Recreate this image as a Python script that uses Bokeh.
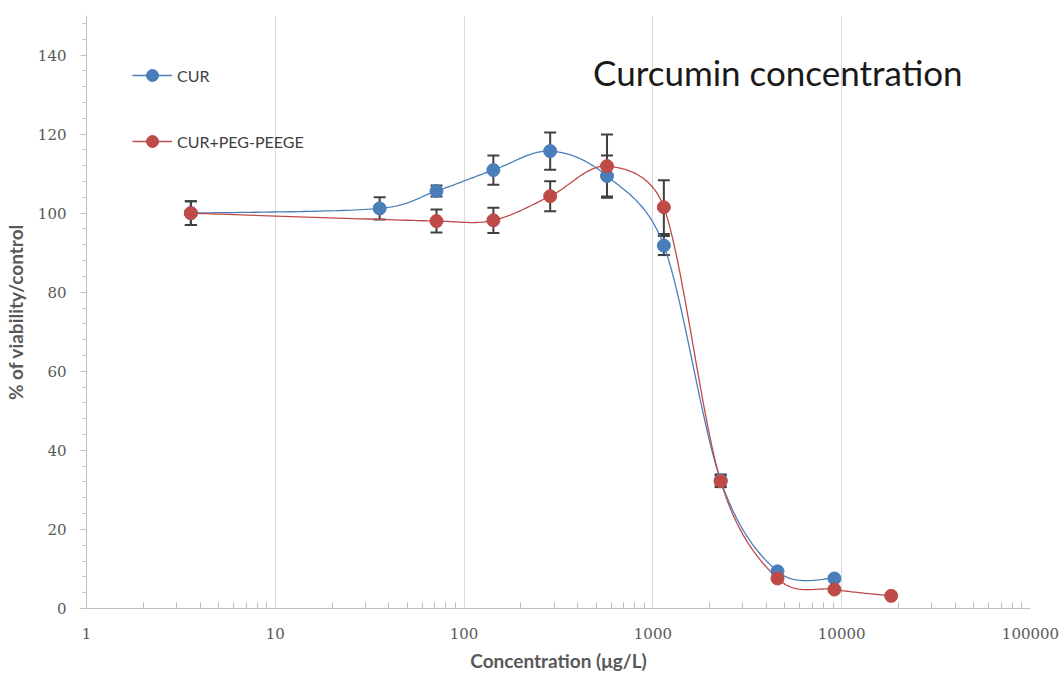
import numpy as np
from bokeh.plotting import figure
from bokeh.models import (ColumnDataSource, Whisker, TeeHead, Legend, LegendItem,
                          Label, FixedTicker, NumeralTickFormatter)
from bokeh.embed import file_html
from bokeh.resources import INLINE

# Viability (% of control) versus curcumin concentration (µg/L)
cur_conc = [3.57, 35.7, 71.4, 142.9, 285.7, 571.4, 1142.9, 2285.7, 4571.4, 9142.9]
cur_viab = [100.0, 101.2, 105.6, 110.9, 115.7, 109.4, 91.8, 32.4, 9.4, 7.6]
cur_err = [3.0, 2.8, 1.4, 3.7, 4.7, 5.2, 2.4, 1.5, 0.0, 0.0]

peg_conc = [3.57, 71.4, 142.9, 285.7, 571.4, 1142.9, 2285.7, 4571.4, 9142.9, 18285.7]
peg_viab = [100.0, 98.0, 98.2, 104.3, 111.9, 101.5, 32.2, 7.6, 4.8, 3.2]
peg_err = [3.0, 2.9, 3.2, 3.8, 8.0, 6.8, 1.5, 0.0, 0.0, 0.0]

x_ticks = [1, 10, 100, 1000, 10000, 100000]
y_ticks = [0, 20, 40, 60, 80, 100, 120, 140]

BLUE = "#4a7ebb"
RED = "#be4b48"
TICK_FONT = "DejaVu Serif"
TEXT_FONT = "Lato"

# approximate screen scale of the frame, used so the curve smoothing
# behaves the same way in both directions
PX_PER_DECADE = 188.8
PX_PER_UNIT = 3.953


def smooth(xs, ys, n=40):
    """Bezier smoothing through the points with control arms limited to
    half of the segment length (spreadsheet-style smoothed line)."""
    u = np.log10(np.asarray(xs, dtype=float)) * PX_PER_DECADE
    y = np.asarray(ys, dtype=float) * PX_PER_UNIT
    pts = np.column_stack([u, y])
    pts = np.vstack([pts[:1], pts, pts[-1:]])
    t = np.linspace(0.0, 1.0, n)
    out = []
    for i in range(len(u) - 1):
        p0, p1, p2, p3 = pts[i], pts[i + 1], pts[i + 2], pts[i + 3]
        d02 = np.linalg.norm(p2 - p0)
        d12 = np.linalg.norm(p2 - p1)
        d13 = np.linalg.norm(p3 - p1)
        f1 = 1.0 / 6.0
        f2 = 1.0 / 6.0
        if d02 * f1 > d12 / 2 and d02 > 0:
            f1 = d12 / 2 / d02
        if d13 * f2 > d12 / 2 and d13 > 0:
            f2 = d12 / 2 / d13
        c1 = p1 + (p2 - p0) * f1
        c2 = p2 - (p3 - p1) * f2
        tt = t if i == 0 else t[1:]
        b = ((1 - tt) ** 3)[:, None] * p1 + (3 * (1 - tt) ** 2 * tt)[:, None] * c1 \
            + (3 * (1 - tt) * tt ** 2)[:, None] * c2 + (tt ** 3)[:, None] * p2
        out.append(b)
    out = np.vstack(out)
    return list(10 ** (out[:, 0] / PX_PER_DECADE)), list(out[:, 1] / PX_PER_UNIT)


p = figure(width=1062, height=675, x_axis_type="log",
           x_range=(1, 100000), y_range=(0, 150),
           output_backend="svg", toolbar_location=None,
           min_border_left=86, min_border_right=32,
           min_border_top=15, min_border_bottom=67)
p.outline_line_color = None
p.background_fill_color = "white"
p.border_fill_color = "white"

# grid: vertical lines at each decade only
p.ygrid.visible = False
p.xgrid.grid_line_color = "#d9d9d9"
p.xgrid.grid_line_width = 1

minor_x = [m * 10 ** d for d in range(5) for m in range(2, 10)]
p.xaxis.ticker = FixedTicker(ticks=x_ticks, minor_ticks=minor_x)
p.xaxis.formatter = NumeralTickFormatter(format="0")
p.yaxis.ticker = FixedTicker(ticks=y_ticks, minor_ticks=list(range(0, 151, 4)))

for ax in (p.xaxis[0], p.yaxis[0]):
    ax.axis_line_color = "#bfbfbf"
    ax.major_tick_line_color = "#bfbfbf"
    ax.minor_tick_line_color = "#bfbfbf"
    ax.major_label_text_font = TICK_FONT
    ax.major_label_text_font_size = "15px"
    ax.major_label_text_color = "#595959"
    ax.axis_label_text_font = TEXT_FONT
    ax.axis_label_text_font_size = "19px"
    ax.axis_label_text_font_style = "bold"
    ax.axis_label_text_color = "#595959"

p.xaxis.major_tick_out = 0
p.xaxis.major_tick_in = 0
p.xaxis.minor_tick_out = 0
p.xaxis.minor_tick_in = 6
p.xaxis.major_label_standoff = 19
p.xaxis.axis_label = "Concentration (μg/L)"
p.xaxis.axis_label_standoff = 7

p.yaxis.major_tick_out = 6
p.yaxis.major_tick_in = 0
p.yaxis.minor_tick_out = 4
p.yaxis.minor_tick_in = 0
p.yaxis.major_label_standoff = 14
p.yaxis.axis_label = "% of viability/control"
p.yaxis.axis_label_standoff = 8

# smoothed curves
cx, cy = smooth(cur_conc, cur_viab)
px, py = smooth(peg_conc, peg_viab)
cur_line = p.line(cx, cy, line_color=BLUE, line_width=1.3)
peg_line = p.line(px, py, line_color=RED, line_width=1.3)


def error_source(xs, ys, es):
    keep = [i for i, e in enumerate(es) if e > 0]
    return ColumnDataSource(dict(
        x=[xs[i] for i in keep],
        upper=[ys[i] + es[i] for i in keep],
        lower=[ys[i] - es[i] for i in keep]))


for xs, ys, es in ((cur_conc, cur_viab, cur_err), (peg_conc, peg_viab, peg_err)):
    w = Whisker(base="x", upper="upper", lower="lower", dimension="height",
                source=error_source(xs, ys, es),
                line_color="#404040", line_width=2,
                upper_head=TeeHead(size=12, line_color="#404040", line_width=2),
                lower_head=TeeHead(size=12, line_color="#404040", line_width=2))
    p.add_layout(w)

cur_pts = p.scatter(cur_conc, cur_viab, size=13, fill_color=BLUE, line_color=BLUE)
peg_pts = p.scatter(peg_conc, peg_viab, size=13, fill_color=RED, line_color=RED)

legend = Legend(items=[
    LegendItem(label="CUR", renderers=[cur_line, cur_pts]),
    LegendItem(label="CUR+PEG-PEEGE", renderers=[peg_line, peg_pts]),
], location=(46, 452))
legend.glyph_width = 40
legend.glyph_height = 30
legend.label_height = 30
legend.spacing = 36
legend.padding = 0
legend.margin = 0
legend.label_standoff = 5
legend.border_line_color = None
legend.background_fill_alpha = 0
legend.label_text_font = TEXT_FONT
legend.label_text_font_size = "16px"
legend.label_text_color = "#404040"
p.add_layout(legend)

p.add_layout(Label(x=482, y=135.8, text="Curcumin concentration",
                   text_font=TEXT_FONT, text_font_size="35px",
                   text_color="#1a1a1a", text_baseline="middle"))

open("out.html", "w").write(file_html(p, INLINE))
